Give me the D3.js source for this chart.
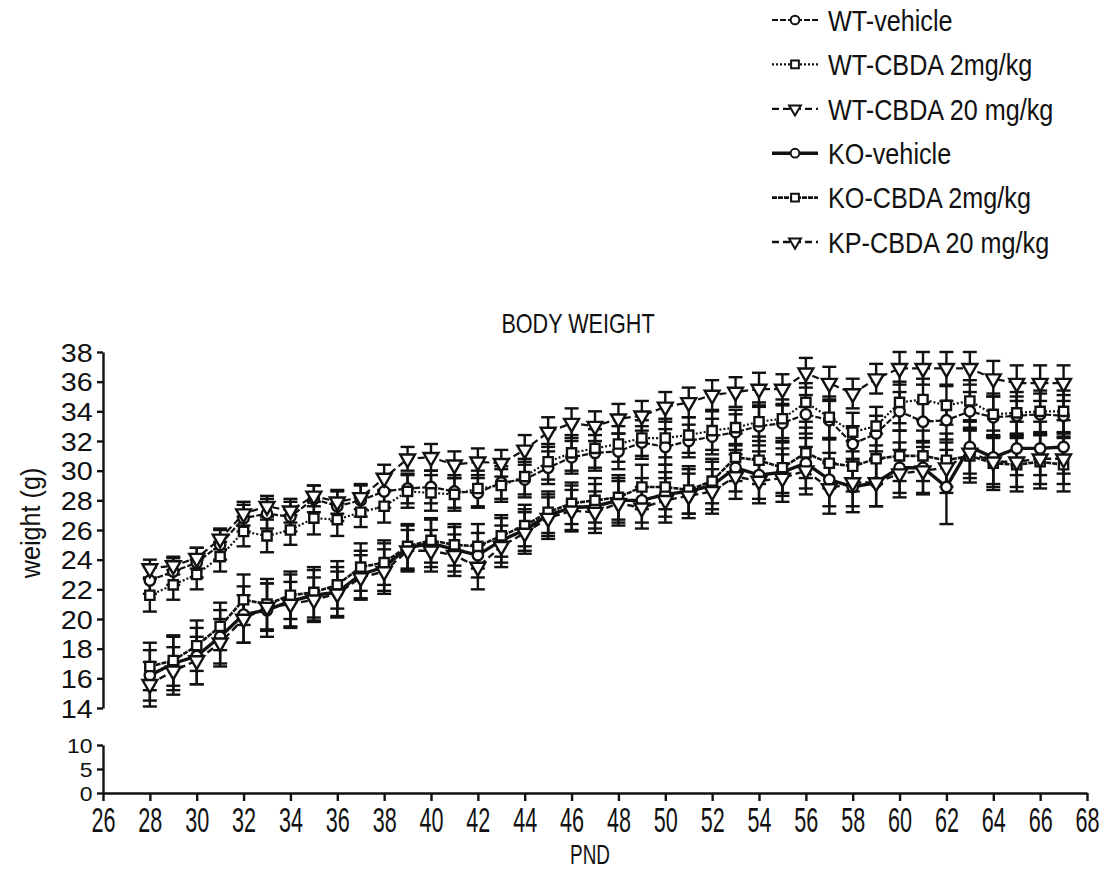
<!DOCTYPE html>
<html><head><meta charset="utf-8">
<script src="https://cdn.jsdelivr.net/npm/d3@7"></script>
<style>
body{margin:0;background:#fff;}
svg text{font-family:"Liberation Sans","DejaVu Sans",sans-serif;fill:#111;}
</style></head><body>
<svg id="c" width="1106" height="876"></svg>
<script>
const days = [28,29,30,31,32,33,34,35,36,37,38,39,40,41,42,43,44,45,46,47,48,49,50,51,52,53,54,55,56,57,58,59,60,61,62,63,64,65,66,67];
const xTicks = [26,28,30,32,34,36,38,40,42,44,46,48,50,52,54,56,58,60,62,64,66,68];
const yTicksTop = [14,16,18,20,22,24,26,28,30,32,34,36,38];
const yTicksBottom = [0,5,10];
const seriesNames = ["WT-vehicle","WT-CBDA 2mg/kg","WT-CBDA 20 mg/kg","KO-vehicle","KO-CBDA 2mg/kg","KP-CBDA 20 mg/kg"];

const wtVehicle   = [22.6,23.2,23.8,25.0,26.8,27.1,26.9,28.1,27.6,28.0,28.6,28.8,28.9,28.6,28.5,29.2,29.4,30.2,30.9,31.2,31.3,31.9,31.6,32.0,32.3,32.6,33.0,33.2,33.8,33.4,31.8,32.5,34.0,33.3,33.4,34.0,33.6,33.7,33.8,33.7];
const wtCbda2     = [21.6,22.3,23.0,24.2,25.9,25.6,26.0,26.8,26.7,27.2,27.6,28.6,28.5,28.4,28.8,29.0,29.6,30.6,31.2,31.5,31.8,32.2,32.2,32.4,32.7,32.9,33.3,33.5,34.6,33.6,32.6,33.0,34.6,34.8,34.4,34.7,33.8,33.9,34.0,34.0];
const wtCbda20    = [23.4,23.6,24.1,25.4,27.1,27.6,27.3,28.3,27.9,28.2,29.5,30.8,30.9,30.4,30.6,30.5,31.4,32.6,33.2,33.0,33.5,33.7,34.3,34.6,35.1,35.3,35.5,35.5,36.6,35.9,35.2,36.2,36.9,36.9,36.9,36.9,36.2,35.9,35.9,35.9];
const koVehicle   = [16.2,17.0,17.5,18.8,20.3,20.6,21.2,21.6,21.8,23.0,23.5,24.8,25.1,24.7,24.3,25.3,26.0,27.0,27.5,27.6,28.0,28.0,28.4,28.6,29.0,30.2,29.7,29.9,30.5,29.4,28.9,29.2,30.2,30.2,28.9,31.6,30.9,31.5,31.5,31.6];
const koCbda2     = [16.8,17.2,18.2,19.5,21.3,21.0,21.6,21.8,22.3,23.5,23.8,24.9,25.3,25.0,24.9,25.6,26.3,27.2,27.8,28.0,28.2,28.9,28.9,28.7,29.3,30.9,30.7,30.2,31.2,30.5,30.3,30.8,31.0,31.0,30.7,31.0,30.5,30.4,30.6,30.4];
const kpCbda20    = [15.6,16.5,17.2,18.4,20.0,20.8,21.0,21.3,21.7,22.8,23.2,24.6,24.6,24.3,23.5,24.9,25.8,26.8,27.3,27.2,27.8,27.5,28.0,28.3,28.6,29.6,29.3,29.5,30.0,28.8,29.2,29.2,29.8,30.0,30.2,31.2,30.6,30.6,30.8,30.8];

const wtVehicleErr = [0.9,0.9,1.0,1.0,0.9,1.0,1.0,0.9,1.0,1.1,1.1,1.0,1.1,1.1,1.0,1.1,1.2,1.1,1.1,1.2,1.2,1.1,1.2,1.1,1.2,1.2,1.3,1.2,1.3,1.3,1.2,1.2,1.3,1.3,1.3,1.3,1.4,1.3,1.4,1.4];
const wtCbda2Err   = [1.1,1.0,1.0,1.0,1.0,1.1,1.0,1.1,1.1,1.0,1.1,1.1,1.2,1.1,1.2,1.1,1.2,1.2,1.2,1.3,1.2,1.2,1.3,1.2,1.3,1.2,1.3,1.3,1.3,1.4,1.3,1.3,1.4,1.4,1.3,1.4,1.4,1.4,1.4,1.4];
const wtCbda20Err  = [0.6,0.6,0.7,0.7,0.8,0.7,0.8,0.7,0.8,0.8,0.9,0.8,0.9,0.9,0.9,0.9,1.0,1.0,1.0,1.0,1.0,1.0,1.0,1.0,1.0,1.0,1.1,1.0,1.0,1.1,1.0,1.0,1.1,1.1,1.1,1.1,1.2,1.2,1.2,1.2];
const koVehicleErr = [1.7,1.8,1.9,1.8,1.9,1.8,1.8,1.7,1.7,1.6,1.6,1.5,1.6,1.5,1.5,1.5,1.4,1.4,1.5,1.5,1.5,1.5,1.5,1.5,1.6,1.6,1.6,1.6,1.7,1.8,1.7,1.6,1.7,1.7,2.5,1.8,1.8,1.8,1.8,1.8];
const koCbda2Err   = [1.6,1.7,1.7,1.6,1.7,1.7,1.6,1.7,1.6,1.6,1.5,1.5,1.5,1.4,1.5,1.4,1.4,1.4,1.4,1.5,1.5,1.5,1.5,1.6,1.5,1.6,1.6,1.7,1.7,1.7,1.7,1.7,1.7,1.7,1.8,1.8,1.8,1.8,1.8,1.8];
const kpCbda20Err  = [1.5,1.6,1.6,1.6,1.6,1.6,1.5,1.5,1.5,1.5,1.5,1.4,1.4,1.4,1.5,1.4,1.4,1.4,1.4,1.4,1.5,1.4,1.5,1.5,1.5,1.5,1.5,1.6,1.6,1.7,1.6,1.6,1.6,1.6,1.7,1.7,1.7,1.7,1.7,1.7];

const seriesValues = [wtVehicle, wtCbda2, wtCbda20, koVehicle, koCbda2, kpCbda20];
const seriesErrors = [wtVehicleErr, wtCbda2Err, wtCbda20Err, koVehicleErr, koCbda2Err, kpCbda20Err];

// styles (kept apart from data)
const styles = [
  {symbol:"circle",  dash:"6,2", width:2.2},
  {symbol:"square",  dash:"2,2", width:2.2},
  {symbol:"triDown", dash:"7,4", width:2.2},
  {symbol:"circle",  dash:null,  width:3.4},
  {symbol:"square",  dash:"5,1", width:2.6},
  {symbol:"triDown", dash:"7,4", width:2.4}
];
const INK = "#111";

const svg = d3.select("#c");
const x = d3.scaleLinear().domain([26,68]).range([103,1087]);
const yTop = d3.scaleLinear().domain([14,38]).range([708,352]);
const yBot = d3.scaleLinear().domain([0,10]).range([793,745]);

function symPath(kind, size){
  if(kind==="circle") return d3.symbol(d3.symbolCircle, size)();
  if(kind==="square") return d3.symbol(d3.symbolSquare, size)();
  return d3.symbol(d3.symbolTriangle, size)();
}
function symTransform(kind, cx, cy){
  return kind==="triDown" ? `translate(${cx},${cy}) rotate(180)` : `translate(${cx},${cy})`;
}
function narrowText(parent, tx, ty, str, size, sx, anchor, rot){
  const g = parent.append("g").attr("transform",`translate(${tx},${ty})${rot?` rotate(${rot})`:""} scale(${sx},1)`);
  return g.append("text").attr("x",0).attr("y",0).attr("text-anchor",anchor||"start")
    .attr("font-size",size).text(str);
}

// Axes
const xAxis = svg.append("g").attr("transform","translate(0,793)")
  .call(d3.axisBottom(x).tickValues(xTicks).tickSize(8).tickSizeOuter(0).tickPadding(5).tickFormat(d3.format("d")));
xAxis.selectAll("path,line").attr("stroke",INK).attr("stroke-width",2.4);
xAxis.selectAll("text").attr("font-size",36).attr("transform","scale(0.6,1)")
  .style("font-family",'"Liberation Sans","DejaVu Sans",sans-serif').attr("fill",INK);

const yAxisTop = svg.append("g").attr("transform","translate(103,0)")
  .call(d3.axisLeft(yTop).tickValues(yTicksTop).tickSize(6).tickSizeOuter(0).tickPadding(3));
yAxisTop.selectAll("path,line").attr("stroke",INK).attr("stroke-width",2.4);
yAxisTop.selectAll("text").attr("font-size",25).attr("dy","0.36em")
  .attr("transform","scale(1.15,1)")
  .style("font-family",'"Liberation Sans","DejaVu Sans",sans-serif').attr("fill",INK);

const yAxisBot = svg.append("g").attr("transform","translate(103,0)")
  .call(d3.axisLeft(yBot).tickValues(yTicksBottom).tickSize(6).tickSizeOuter(0).tickPadding(3));
yAxisBot.selectAll("path,line").attr("stroke",INK).attr("stroke-width",2.4);
yAxisBot.selectAll("text").attr("font-size",20).attr("dy","0.36em")
  .attr("transform","scale(1.15,1)")
  .style("font-family",'"Liberation Sans","DejaVu Sans",sans-serif').attr("fill",INK);

// titles
narrowText(svg, 578, 333, "BODY WEIGHT", 27, 0.8, "middle");
narrowText(svg, 590, 864, "PND", 27, 0.7, "middle");
narrowText(svg, 40, 523, "weight (g)", 28, 0.9, "middle", -90);

// data
const line = d3.line().x(d=>x(d.day)).y(d=>yTop(d.v));
const plot = svg.append("g");
seriesValues.forEach((vals,i)=>{
  const pts = days.map((d,j)=>({day:d, v:vals[j], e:seriesErrors[i][j]}));
  const st = styles[i];
  plot.append("path").datum(pts).attr("d",line).attr("fill","none")
    .attr("stroke",INK).attr("stroke-width",st.width)
    .attr("stroke-dasharray",st.dash);
});
seriesValues.forEach((vals,i)=>{
  const pts = days.map((d,j)=>({day:d, v:vals[j], e:seriesErrors[i][j]}));
  const g = plot.append("g").attr("stroke",INK).attr("stroke-width",2.4);
  g.selectAll("line.v").data(pts).join("line")
    .attr("x1",d=>x(d.day)).attr("x2",d=>x(d.day))
    .attr("y1",d=>yTop(d.v+d.e)).attr("y2",d=>yTop(d.v-d.e));
  g.selectAll("line.t").data(pts).join("line")
    .attr("x1",d=>x(d.day)-7).attr("x2",d=>x(d.day)+7)
    .attr("y1",d=>yTop(d.v+d.e)).attr("y2",d=>yTop(d.v+d.e));
  g.selectAll("line.b").data(pts).join("line")
    .attr("x1",d=>x(d.day)-7).attr("x2",d=>x(d.day)+7)
    .attr("y1",d=>yTop(d.v-d.e)).attr("y2",d=>yTop(d.v-d.e));
});
seriesValues.forEach((vals,i)=>{
  const pts = days.map((d,j)=>({day:d, v:vals[j]}));
  const st = styles[i];
  plot.append("g").selectAll("path").data(pts).join("path")
    .attr("d",symPath(st.symbol, st.symbol==="triDown"?95:85))
    .attr("transform",d=>symTransform(st.symbol, x(d.day), yTop(d.v)))
    .attr("fill","#fff").attr("stroke",INK).attr("stroke-width",2.4);
});

// legend
const leg = svg.append("g");
seriesNames.forEach((name,i)=>{
  const cy = 20 + i*44.4;
  const st = styles[i];
  leg.append("line").attr("x1",772).attr("x2",818).attr("y1",cy).attr("y2",cy)
    .attr("stroke",INK).attr("stroke-width",st.width).attr("stroke-dasharray",st.dash);
  leg.append("path").attr("d",symPath(st.symbol,60))
    .attr("transform",symTransform(st.symbol,795,cy))
    .attr("fill","#fff").attr("stroke",INK).attr("stroke-width",2);
  narrowText(leg, 828, cy, name, 30, 0.84, "start").attr("dy","0.36em");
});
</script>
</body></html>
